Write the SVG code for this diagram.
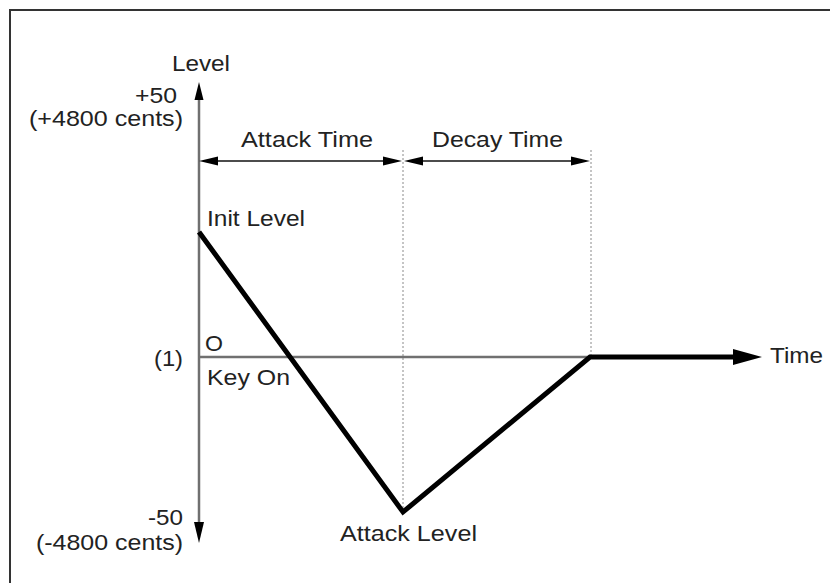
<svg xmlns="http://www.w3.org/2000/svg" width="830" height="583" viewBox="0 0 830 583">
<style>
text{font-family:"Liberation Sans",Arial,sans-serif;font-size:22.5px;fill:#222}
.axis{stroke:#707070;stroke-width:2.5;fill:none}
.dash{stroke:#8a8a8a;stroke-width:1;stroke-dasharray:2,2;fill:none}
.dim{stroke:#111;stroke-width:1.5;fill:none}
.env{stroke:#000;stroke-width:5;fill:none;stroke-linejoin:miter}
.head{fill:#000}
.end{text-anchor:end}
.mid{text-anchor:middle}
</style>
<rect x="10" y="10" width="840" height="600" fill="#fff" stroke="#333" stroke-width="2"/>
<g id="connectors">
  <line class="dash" x1="403" y1="150" x2="403" y2="512"/>
  <line class="dash" x1="591" y1="150" x2="591" y2="357"/>
  <line class="axis" x1="199" y1="96" x2="199" y2="526"/>
  <polygon class="head" points="199,82 194.5,100 203.5,100"/>
  <polygon class="head" points="199,543 194,522 204,522"/>
  <line class="axis" x1="199" y1="357" x2="591" y2="357"/>
  <line class="dim" x1="214" y1="161" x2="388" y2="161"/>
  <polygon class="head" points="199,161 218,156.5 218,165.5"/>
  <polygon class="head" points="402,161 383,156.5 383,165.5"/>
  <line class="dim" x1="419" y1="161" x2="575" y2="161"/>
  <polygon class="head" points="404,161 423,156.5 423,165.5"/>
  <polygon class="head" points="590,161 571,156.5 571,165.5"/>
  <polyline class="env" points="199,232 403,512 590,357 740,357"/>
  <polygon class="head" points="762,357 733,349 733,365"/>
</g>
<g id="labels">
  <text x="172" y="71" textLength="58" lengthAdjust="spacingAndGlyphs">Level</text>
  <text x="135" y="103" textLength="42" lengthAdjust="spacingAndGlyphs">+50</text>
  <text x="29" y="126" textLength="154" lengthAdjust="spacingAndGlyphs">(+4800 cents)</text>
  <text x="241" y="147" textLength="132" lengthAdjust="spacingAndGlyphs">Attack Time</text>
  <text x="432" y="147" textLength="131" lengthAdjust="spacingAndGlyphs">Decay Time</text>
  <text x="207" y="226" textLength="98" lengthAdjust="spacingAndGlyphs">Init Level</text>
  <text x="205" y="351" textLength="18" lengthAdjust="spacingAndGlyphs">O</text>
  <text x="154" y="366" textLength="29" lengthAdjust="spacingAndGlyphs">(1)</text>
  <text x="207" y="385" textLength="83" lengthAdjust="spacingAndGlyphs">Key On</text>
  <text x="770" y="363" textLength="53" lengthAdjust="spacingAndGlyphs">Time</text>
  <text x="148" y="525" textLength="35" lengthAdjust="spacingAndGlyphs">-50</text>
  <text x="36" y="550" textLength="147" lengthAdjust="spacingAndGlyphs">(-4800 cents)</text>
  <text x="340" y="541" textLength="137" lengthAdjust="spacingAndGlyphs">Attack Level</text>
</g>
</svg>
